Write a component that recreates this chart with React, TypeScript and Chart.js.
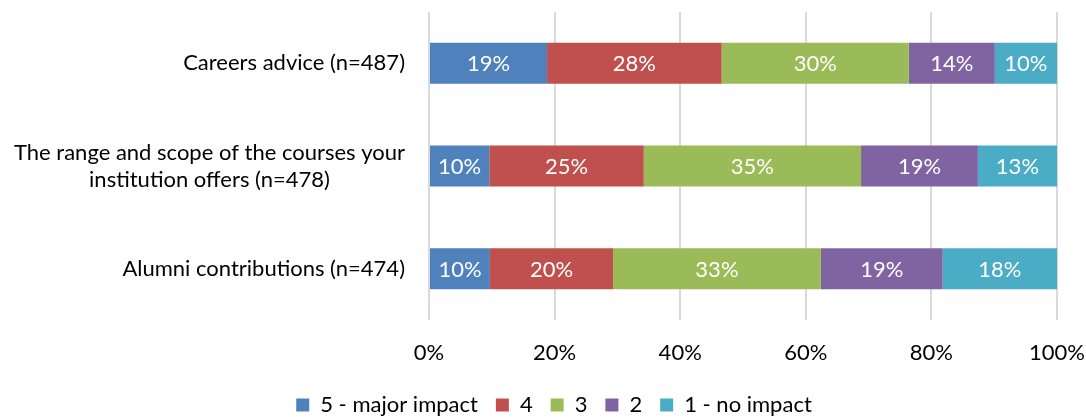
import React, { useEffect, useRef } from "react";
import { Chart, registerables } from "chart.js";

Chart.register(...registerables);

// Survey items (one array entry per text line)
const CATEGORIES: string[][] = [
  ["Careers advice (n=487)"],
  ["The range and scope of the courses your", "institution offers (n=478)"],
  ["Alumni contributions (n=474)"],
];

const SERIES_NAMES = ["5 - major impact", "4", "3", "2", "1 - no impact"];
const SERIES_COLORS = ["#4F81BD", "#C0504D", "#9BBB59", "#8064A2", "#4BACC6"];

// Share of respondents (%) per rating, in category order
const MAJOR_IMPACT = [18.8, 9.6, 9.7];
const RATING_4 = [27.8, 24.6, 19.6];
const RATING_3 = [29.8, 34.6, 33.1];
const RATING_2 = [13.7, 18.6, 19.4];
const NO_IMPACT = [9.9, 12.6, 18.2];

const SERIES_VALUES = [MAJOR_IMPACT, RATING_4, RATING_3, RATING_2, NO_IMPACT];

const X_MIN = 0;
const X_MAX = 100;
const X_STEP = 20;

const FONT = "Lato, 'Open Sans', sans-serif";
const FONT_SIZE = 22;

// Draws category names left of the plot, each block right-aligned with its lines centred
const categoryLabels = {
  id: "categoryLabels",
  afterDraw(chart: any) {
    const { ctx, chartArea } = chart;
    const yScale = chart.scales.y;
    ctx.save();
    ctx.font = `${FONT_SIZE}px ${FONT}`;
    ctx.fillStyle = "#000";
    ctx.textBaseline = "middle";
    ctx.textAlign = "center";
    const lineH = 27;
    CATEGORIES.forEach((lines, i) => {
      const yc = yScale.getPixelForValue(i);
      const maxW = Math.max(...lines.map((l) => ctx.measureText(l).width));
      const cx = chartArea.left - 24 - maxW / 2;
      const y0 = yc - ((lines.length - 1) * lineH) / 2;
      lines.forEach((l, j) => ctx.fillText(l, cx, y0 + j * lineH));
    });
    ctx.restore();
  },
};

// Writes rounded percentages in the middle of every segment
const segmentLabels = {
  id: "segmentLabels",
  afterDatasetsDraw(chart: any) {
    const { ctx } = chart;
    ctx.save();
    ctx.font = `${FONT_SIZE}px ${FONT}`;
    ctx.fillStyle = "#fff";
    ctx.textAlign = "center";
    ctx.textBaseline = "middle";
    chart.data.datasets.forEach((ds: any, di: number) => {
      const meta = chart.getDatasetMeta(di);
      meta.data.forEach((bar: any, i: number) => {
        const v = ds.data[i] as number;
        const { x, y, base } = bar.getProps(["x", "y", "base"], true);
        ctx.fillText(`${Math.round(v)}%`, (x + base) / 2, y + 1);
      });
    });
    ctx.restore();
  },
};

export default function App() {
  const canvasRef = useRef<HTMLCanvasElement | null>(null);

  useEffect(() => {
    if (!canvasRef.current) return;
    const chart = new Chart(canvasRef.current, {
      type: "bar",
      data: {
        labels: CATEGORIES,
        datasets: SERIES_VALUES.map((vals, i) => ({
          label: SERIES_NAMES[i],
          data: vals,
          backgroundColor: SERIES_COLORS[i],
          borderWidth: 0,
          barPercentage: 0.4,
          categoryPercentage: 1,
        })),
      },
      options: {
        indexAxis: "y",
        responsive: false,
        animation: false,
        layout: { padding: { left: 51, right: 29, top: 12, bottom: -9 } },
        scales: {
          x: {
            stacked: true,
            min: X_MIN,
            max: X_MAX,
            ticks: {
              stepSize: X_STEP,
              padding: 20,
              color: "#000",
              font: { family: FONT, size: FONT_SIZE },
              callback: (v: any) => `${v}%`,
            },
            grid: { color: "#D9D9D9", lineWidth: 2, drawTicks: false },
            border: { display: false },
            afterFit: (scale: any) => {
              scale.height = 56;
              scale.paddingLeft = 0;
              scale.paddingRight = 0;
            },
          },
          y: {
            stacked: true,
            ticks: { display: false },
            grid: { display: false },
            border: { display: false },
            afterFit: (scale: any) => {
              scale.width = 378;
            },
          },
        },
        plugins: {
          legend: {
            position: "bottom",
            labels: {
              boxWidth: 13,
              boxHeight: 13,
              padding: 18,
              color: "#000",
              font: { family: FONT, size: FONT_SIZE },
            },
          },
          tooltip: { enabled: false },
        },
      },
      plugins: [categoryLabels, segmentLabels],
    });
    return () => chart.destroy();
  }, []);

  return (
    <div style={{ position: "absolute", left: 0, top: 0, width: 1086, height: 417, background: "#fff" }}>
      <canvas ref={canvasRef} width={1086} height={417} />
    </div>
  );
}
